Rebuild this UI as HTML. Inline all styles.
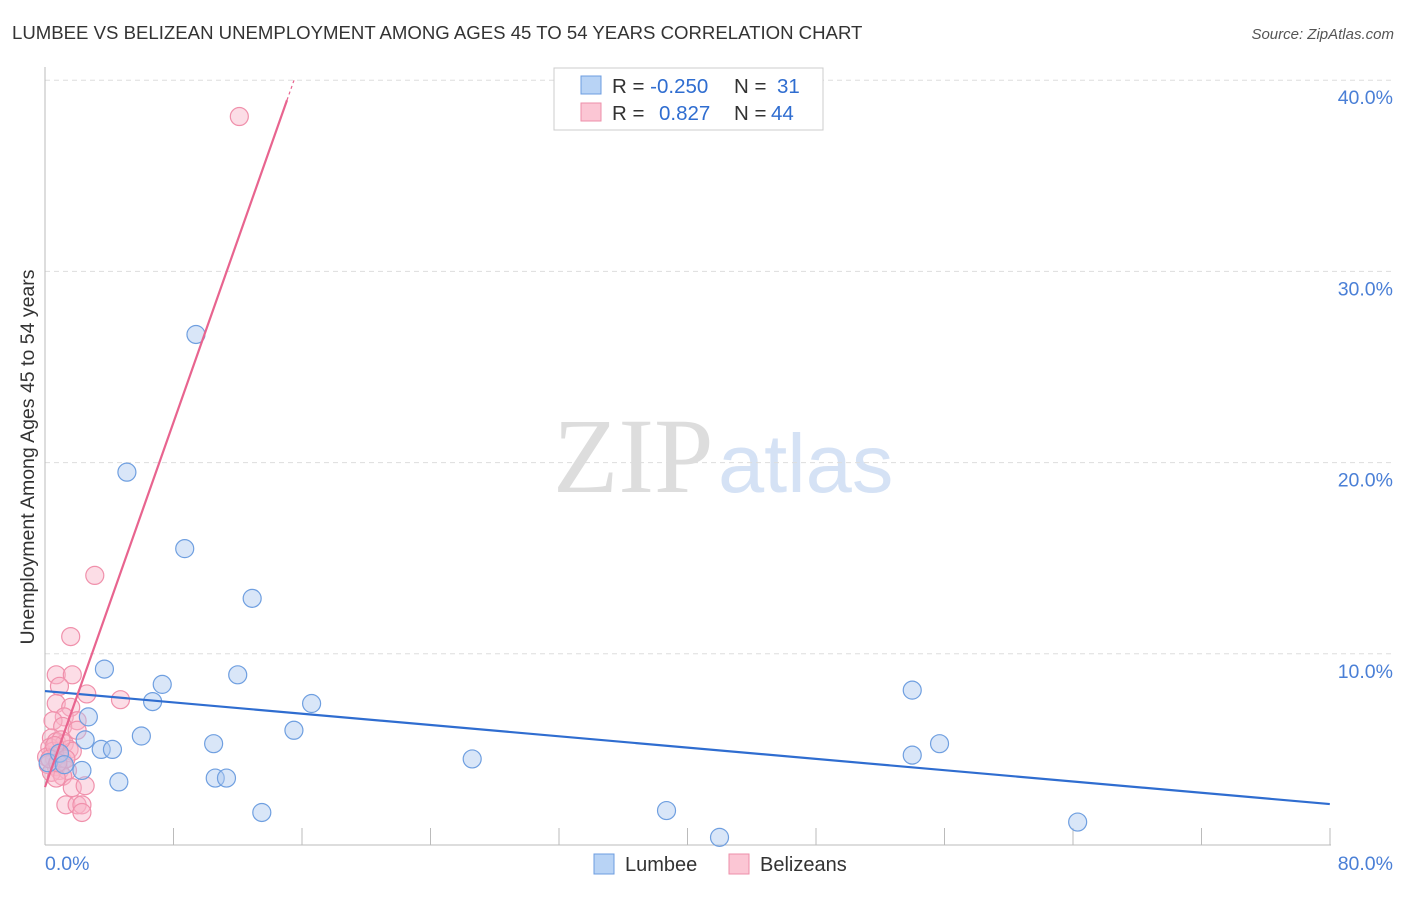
<!DOCTYPE html>
<html><head><meta charset="utf-8"><style>
body{margin:0;background:#fff;font-family:"Liberation Sans",sans-serif}
</style></head><body>
<svg id="c" width="1406" height="892" xmlns="http://www.w3.org/2000/svg">
<text x="12" y="39" font-size="18.6" fill="#333">LUMBEE VS BELIZEAN UNEMPLOYMENT AMONG AGES 45 TO 54 YEARS CORRELATION CHART</text>
<text x="1394" y="39" font-size="15" fill="#555" font-style="italic" text-anchor="end">Source: ZipAtlas.com</text>
<text x="34" y="457" font-size="19.5" fill="#333" text-anchor="middle" transform="rotate(-90 34 457)">Unemployment Among Ages 45 to 54 years</text>
<text x="553" y="492" font-size="107" fill="#ddd" font-family="Liberation Serif,serif">ZIP</text>
<text x="718" y="492" font-size="83" fill="#d5e2f5">atlas</text>
<g id="grid"></g><g id="marks"></g>
<g>
<rect x="554" y="68" width="269" height="62" fill="#fff" stroke="#ccc"/>
<rect x="581" y="76" width="20" height="18" fill="#b8d3f5" stroke="#6c9de0"/>
<rect x="581" y="103" width="20" height="18" fill="#fbc6d4" stroke="#ee8faa"/>
<text x="612" y="93" font-size="20.5" fill="#333">R = <tspan fill="#2f6dd0">-0.250</tspan><tspan x="734">N = </tspan><tspan fill="#2f6dd0" x="777">31</tspan></text>
<text x="612" y="120" font-size="20.5" fill="#333">R = <tspan fill="#2f6dd0" x="659">0.827</tspan><tspan x="734">N = </tspan><tspan fill="#2f6dd0" x="771">44</tspan></text>
</g>
<g>
<rect x="594" y="854" width="20" height="20" fill="#b8d3f5" stroke="#6c9de0"/>
<text x="625" y="871" font-size="20" fill="#333">Lumbee</text>
<rect x="729" y="854" width="20" height="20" fill="#fbc6d4" stroke="#ee8faa"/>
<text x="760" y="871" font-size="20" fill="#333">Belizeans</text>
</g>
</svg>
<script>
const xTicks=[0,80];
const yTicks=[10,20,30,40];
const lumbeeX=[9.4,5.1,8.7,12.9,3.7,12.0,7.3,6.7,16.6,2.7,6.0,15.5,10.5,3.5,4.2,0.2,2.5,2.3,4.6,10.6,11.3,13.5,26.6,38.7,42.0,54.0,54.0,55.7,64.3,0.9,1.2];
const lumbeeY=[26.7,19.5,15.5,12.9,9.2,8.9,8.4,7.5,7.4,6.7,5.7,6.0,5.3,5.0,5.0,4.3,5.5,3.9,3.3,3.5,3.5,1.7,4.5,1.8,0.4,8.1,4.7,5.3,1.2,4.8,4.2];
const belX=[12.1,3.1,1.6,0.7,1.7,0.9,2.6,4.7,0.7,1.6,1.2,2.0,0.5,1.1,2.0,0.4,0.7,1.2,0.3,1.5,0.5,0.9,0.1,0.6,1.1,0.2,0.7,0.9,0.4,1.4,1.7,1.1,0.7,1.7,1.3,2.0,2.3,2.3,2.5,1.0,0.6,1.3,0.3,0.8];
const belY=[38.1,14.1,10.9,8.9,8.9,8.3,7.9,7.6,7.4,7.2,6.7,6.5,6.5,6.2,6.0,5.6,5.4,5.3,5.1,5.0,4.9,4.7,4.6,4.5,4.4,4.2,4.1,3.9,3.8,3.9,4.9,3.6,3.5,3.0,2.1,2.1,2.1,1.7,3.1,5.5,5.2,4.5,4.5,4.3];
const trendBlue=[8.05,2.14];
const trendPink=[3.03,38.96,15.07];
const X=v=>45+v*16.06, Y=v=>845-v*19.12;
const NS="http://www.w3.org/2000/svg";
const grid=document.getElementById('grid'), marks=document.getElementById('marks');
function mk(tag,at,parent){const e=document.createElementNS(NS,tag);for(const k in at)e.setAttribute(k,at[k]);parent.appendChild(e);return e;}
yTicks.forEach(t=>{
 const l=mk('line',{x1:45,x2:1394,y1:Y(t),y2:Y(t),stroke:'#ddd','stroke-dasharray':'5,4'},grid);
 
 
 const tx=mk('text',{x:1393,y:Y(t)+24,'font-size':19.5,fill:'#4a7fd6','text-anchor':'end'},grid);tx.textContent=t.toFixed(1)+'%';
 
 
});
mk('line',{x1:45,x2:45,y1:67,y2:845,stroke:'#bbb'},grid);
mk('line',{x1:45,x2:1331,y1:845,y2:845,stroke:'#bbb'},grid);
for(let i=1;i<=10;i++){mk('line',{x1:45+i*128.5,x2:45+i*128.5,y1:828,y2:845,stroke:'#bbb'},grid);}
xTicks.forEach((t,i)=>{const tx=mk('text',{x:i?1393:45,y:870,'font-size':19.5,fill:'#4a7fd6','text-anchor':i?'end':'start'},grid);tx.textContent=t.toFixed(1)+'%';
 
 });
belX.forEach((x,i)=>{const c=mk('circle',{cx:X(x),cy:Y(belY[i]),r:9,fill:'rgba(248,180,200,0.45)',stroke:'#f090ab','stroke-width':1.2},marks);
 
 });
lumbeeX.forEach((x,i)=>{const c=mk('circle',{cx:X(x),cy:Y(lumbeeY[i]),r:9,fill:'rgba(170,200,240,0.45)',stroke:'#6f9fe0','stroke-width':1.2},marks);
 
 });
const bl=mk('line',{x1:X(0),y1:Y(trendBlue[0]),x2:X(80),y2:Y(trendBlue[1]),stroke:'#2f6dd0','stroke-width':2.2},marks);


const slope=(trendPink[1]-trendPink[0])/trendPink[2];
const pl=mk('line',{x1:X(0),y1:Y(trendPink[0]),x2:X(trendPink[2]),y2:Y(trendPink[1]),stroke:'#e8648f','stroke-width':2.2},marks);


const xe=(40-trendPink[0])/slope;
const pd=mk('line',{x1:X(trendPink[2]),y1:Y(trendPink[1]),x2:X(xe),y2:Y(40),stroke:'#e8648f','stroke-width':1.2,'stroke-dasharray':'3,3'},marks);


</script>
</body></html>
